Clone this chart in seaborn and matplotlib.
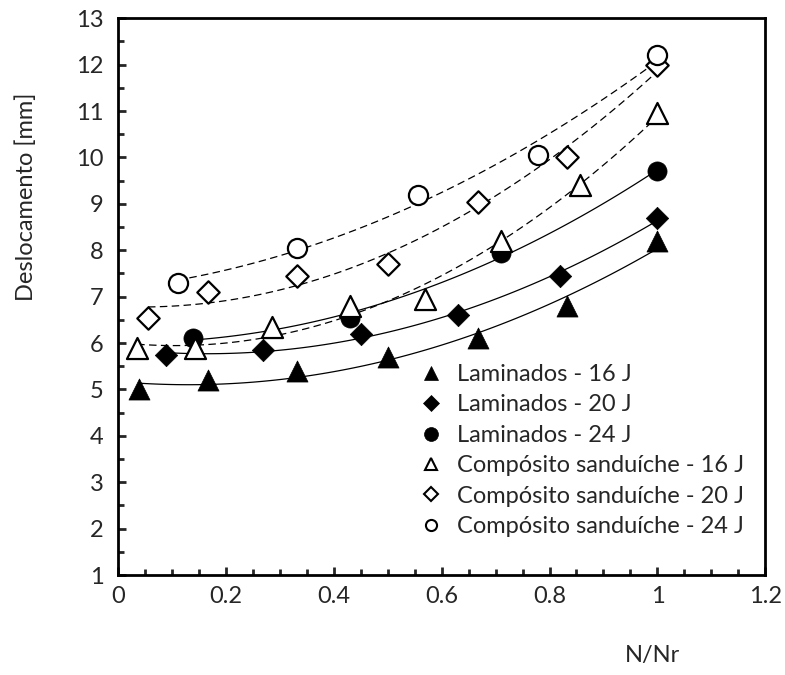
import numpy as np
import pandas as pd
import seaborn as sns
import matplotlib.pyplot as plt
from matplotlib.ticker import MultipleLocator

lam16_x = [0.04, 0.167, 0.333, 0.5, 0.667, 0.833, 1.0]
lam16_y = [5.0, 5.2, 5.4, 5.7, 6.1, 6.8, 8.2]
lam20_x = [0.09, 0.27, 0.45, 0.63, 0.82, 1.0]
lam20_y = [5.75, 5.85, 6.2, 6.6, 7.45, 8.7]
lam24_x = [0.14, 0.43, 0.71, 1.0]
lam24_y = [6.1, 6.55, 7.95, 9.7]
san16_x = [0.036, 0.143, 0.286, 0.43, 0.57, 0.71, 0.857, 1.0]
san16_y = [5.9, 5.9, 6.35, 6.8, 6.95, 8.2, 9.4, 10.95]
san20_x = [0.056, 0.167, 0.333, 0.5, 0.667, 0.833, 1.0]
san20_y = [6.55, 7.1, 7.45, 7.7, 9.05, 10.0, 12.0]
san24_x = [0.111, 0.333, 0.556, 0.778, 1.0]
san24_y = [7.3, 8.05, 9.2, 10.05, 12.2]

labels = ["Laminados - 16 J", "Laminados - 20 J", "Laminados - 24 J",
          "Compósito sanduíche - 16 J", "Compósito sanduíche - 20 J",
          "Compósito sanduíche - 24 J"]
xs = [lam16_x, lam20_x, lam24_x, san16_x, san20_x, san24_x]
ys = [lam16_y, lam20_y, lam24_y, san16_y, san20_y, san24_y]

markers = ["^", "D", "o", "^", "D", "o"]
fills = ["black", "black", "black", "white", "white", "white"]
sizes = [230, 130, 190, 230, 130, 190]
leg_sizes = [10, 8, 10, 9, 7, 8]

sns.set_style("white")
plt.rcParams['font.family'] = ['Lato', 'DejaVu Sans']

fig = plt.figure(figsize=(7.85, 6.75), dpi=100)
ax = fig.add_axes([0.150, 0.148, 0.825, 0.825])

rows = []
for lab, x, y in zip(labels, xs, ys):
    for a, b in zip(x, y):
        rows.append((lab, a, b))
df = pd.DataFrame(rows, columns=["serie", "x", "y"])

for i, lab in enumerate(labels):
    d = df[df.serie == lab]
    # second order trendline, like the spreadsheet one
    c = np.polyfit(d.x, d.y, 2)
    tx = np.linspace(d.x.min(), 1.0, 100)
    trend = pd.DataFrame({"x": tx, "y": np.polyval(c, tx)})
    sns.lineplot(data=trend, x="x", y="y", ax=ax, color="black",
                 linewidth=0.9, linestyle="-" if i < 3 else (0, (6, 3.5)),
                 zorder=2)
    sns.scatterplot(data=d, x="x", y="y", ax=ax, marker=markers[i],
                    s=sizes[i], color=fills[i], edgecolor="black",
                    linewidth=1.6 if i >= 3 else 0.5, zorder=3)

ax.set_xlim(0, 1.2)
ax.set_ylim(1, 13)
ax.xaxis.set_minor_locator(MultipleLocator(0.05))
ax.yaxis.set_major_locator(MultipleLocator(1))
ax.yaxis.set_minor_locator(MultipleLocator(0.5))
ax.set_xticks(np.arange(0, 1.21, 0.2))
ax.set_xticklabels(["0", "0.2", "0.4", "0.6", "0.8", "1", "1.2"])
ax.tick_params(which="major", direction="in", length=6, width=2,
               labelsize=17, pad=8, left=True, bottom=True)
ax.tick_params(which="minor", direction="in", length=4, width=2,
               left=True, bottom=True)
ax.tick_params(axis="y", pad=10)
for s in ax.spines.values():
    s.set_linewidth(2)
    s.set_color("black")

ax.set_xlabel("N/Nr", fontsize=17)
ax.set_ylabel("Deslocamento [mm]", fontsize=17)
ax.xaxis.set_label_coords(0.825, -0.125)
ax.yaxis.set_label_coords(-0.125, 0.68)

handles = [plt.Line2D([], [], linestyle="none", marker=markers[i],
                      markersize=leg_sizes[i], markerfacecolor=fills[i],
                      markeredgecolor="black",
                      markeredgewidth=1.5 if i >= 3 else 0.5)
           for i in range(6)]
ax.legend(handles, labels, loc="lower right", bbox_to_anchor=(1.0, 0.03),
          frameon=False, fontsize=17, handletextpad=0.6, labelspacing=0.4,
          handlelength=1.0)

fig.savefig("out.png", dpi=100)
